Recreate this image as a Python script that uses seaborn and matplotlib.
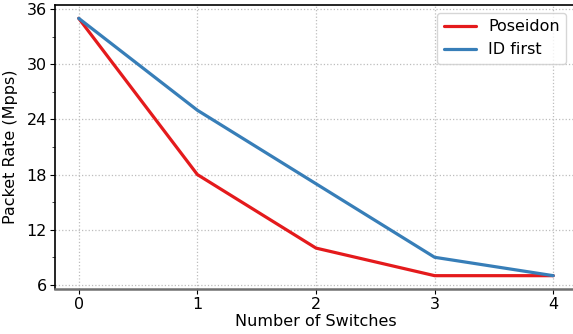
import pandas as pd
import seaborn as sns
import matplotlib.pyplot as plt
from matplotlib.ticker import MultipleLocator

switches = [0, 1, 2, 3, 4]
poseidon = [35, 18, 10, 7, 7]
id_first = [35, 25, 17, 9, 7]
series = ['Poseidon', 'ID first']

df = pd.DataFrame({
    'switches': switches * 2,
    'rate': poseidon + id_first,
    'scheme': [series[0]] * len(switches) + [series[1]] * len(switches),
})

sns.set_theme(style="ticks")
plt.rcParams['font.family'] = ['DejaVu Sans']
plt.rcParams['text.color'] = 'black'
plt.rcParams['axes.labelcolor'] = 'black'

fig = plt.figure(figsize=(5.73, 3.34), dpi=100)
ax = fig.add_axes([55 / 573, 45 / 334, 522 / 573, 284 / 334])

sns.lineplot(data=df, x='switches', y='rate', hue='scheme', ax=ax,
             palette=['#e41a1c', '#377eb8'], linewidth=2.3)

ax.set_xlim(-0.2, 4.2)
ax.set_ylim(5.55, 36.45)
ax.set_xticks(switches)
ax.yaxis.set_major_locator(MultipleLocator(6))
ax.yaxis.set_minor_locator(MultipleLocator(3))
ax.grid(True, linestyle=':', color='#bdbdbd', linewidth=0.9)
ax.tick_params(labelsize=11.5, length=3.5, width=0.8, pad=2.5,
               colors='black', labelcolor='black')
ax.tick_params(axis='y', which='minor', length=2, width=0.6)
ax.set_xlabel('Number of Switches', fontsize=11.5, labelpad=1)
ax.set_ylabel('Packet Rate (Mpps)', fontsize=11.5, labelpad=6)

for s in ['left', 'top']:
    ax.spines[s].set_color('black')
    ax.spines[s].set_linewidth(1.2)
ax.spines['bottom'].set_color('#707070')
ax.spines['bottom'].set_linewidth(1.8)
ax.spines['right'].set_visible(False)

leg = ax.legend(loc='upper right', fontsize=11.5, frameon=True,
                bbox_to_anchor=(0.995, 1.0))
leg.get_frame().set_edgecolor('#cccccc')
for t in leg.get_texts():
    t.set_color('black')

plt.savefig('out.png', dpi=100)
